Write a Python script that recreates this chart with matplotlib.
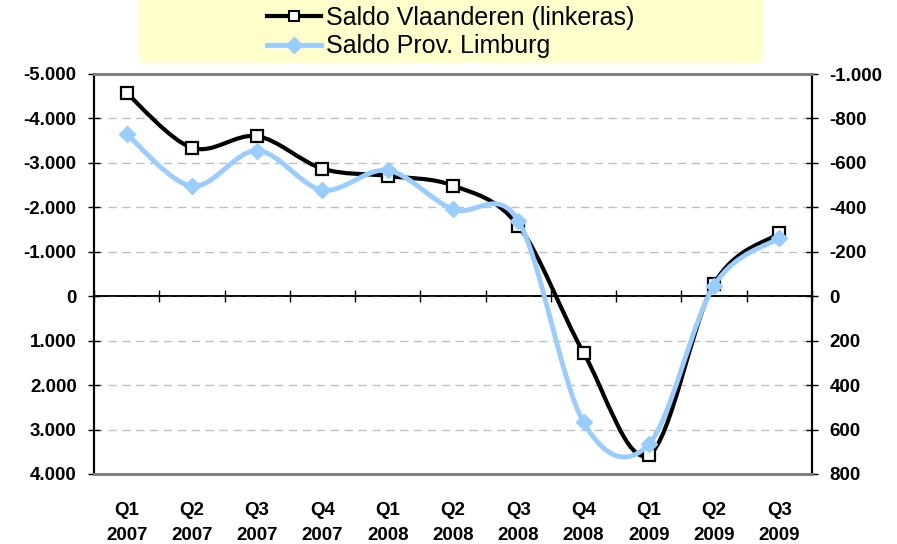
import numpy as np
import matplotlib.pyplot as plt
from matplotlib.path import Path
from matplotlib.patches import PathPatch, Rectangle
from matplotlib.lines import Line2D
from matplotlib.ticker import FuncFormatter

quarters = ['Q1\n2007', 'Q2\n2007', 'Q3\n2007', 'Q4\n2007', 'Q1\n2008', 'Q2\n2008',
            'Q3\n2008', 'Q4\n2008', 'Q1\n2009', 'Q2\n2009', 'Q3\n2009']
saldo_vlaanderen = [-4570, -3340, -3600, -2870, -2705, -2490, -1590, 1270, 3570, -285, -1415]
saldo_limburg = [-730, -496, -655, -478, -566, -391, -340, 567, 666, -48, -262]

BLACK = '#000000'
BLUE = '#99CCFF'
plt.rcParams['font.family'] = ['Liberation Sans', 'DejaVu Sans']


def smooth_path(x, y):
    # Excel-like smoothed line: Catmull-Rom segments as cubic Beziers
    p = np.column_stack([x, y]).astype(float)
    pts = np.vstack([p[0], p, p[-1]])
    verts = [tuple(p[0])]
    codes = [Path.MOVETO]
    for i in range(1, len(pts) - 2):
        c1 = pts[i] + (pts[i + 1] - pts[i - 1]) / 6.0
        c2 = pts[i + 1] - (pts[i + 2] - pts[i]) / 6.0
        verts += [tuple(c1), tuple(c2), tuple(pts[i + 1])]
        codes += [Path.CURVE4] * 3
    return Path(verts, codes)


def thousands(v, pos):
    s = f'{abs(int(round(v))):,}'.replace(',', '.')
    return ('-' if v < 0 else '') + s


fig = plt.figure(figsize=(8.97, 5.44), dpi=100)
ax = fig.add_axes([94 / 897, 1 - 474 / 544, (812 - 94) / 897, 400 / 544])
ax2 = ax.twinx()

x = np.arange(len(quarters))

ax.set_xlim(-0.5, len(quarters) - 0.5)
ax.set_ylim(4000, -5000)
ax2.set_ylim(800, -1000)

ax.set_yticks(np.arange(-5000, 4001, 1000))
ax2.set_yticks(np.arange(-1000, 801, 200))
ax.yaxis.set_major_formatter(FuncFormatter(thousands))
ax2.yaxis.set_major_formatter(FuncFormatter(thousands))

ax.grid(axis='y', color='#C0C0C0', linestyle=(0, (6, 4)), linewidth=1)
ax.set_axisbelow(True)

# horizontal axis line at zero
ax.axhline(0, color=BLACK, linewidth=1.2, zorder=2)

# black series
ax.add_patch(PathPatch(smooth_path(x, saldo_vlaanderen), facecolor='none',
                       edgecolor=BLACK, linewidth=3, zorder=3))
ax.plot(x, saldo_vlaanderen, linestyle='none', marker='s', markersize=8,
        markerfacecolor='white', markeredgecolor=BLACK, markeredgewidth=1.6, zorder=4)

# blue series on right axis
ax2.add_patch(PathPatch(smooth_path(x, saldo_limburg), facecolor='none',
                        edgecolor=BLUE, linewidth=3.5, zorder=3))
ax2.plot(x, saldo_limburg, linestyle='none', marker='D', markersize=8,
         markerfacecolor=BLUE, markeredgecolor=BLUE, zorder=4)

# category labels
ax.set_xticks(x)
ax.set_xticklabels(quarters, fontsize=13.5, fontweight='bold', linespacing=1.6)
ax.tick_params(axis='x', length=0, pad=20)

# boundary ticks on the zero line
zero_pos = (4000 - 0) / 9000
sec = ax.secondary_xaxis(zero_pos)
sec.set_xticks(np.arange(-0.5, len(quarters), 1.0))
sec.set_xticklabels([])
sec.tick_params(axis='x', direction='inout', length=9, width=1, color=BLACK)
sec.spines['bottom'].set_color(BLACK)
sec.spines['bottom'].set_linewidth(1.2)

for a in (ax, ax2):
    a.spines['top'].set_color('#808080')
    a.spines['top'].set_linewidth(2)
    a.spines['bottom'].set_color('#808080')
    a.spines['bottom'].set_linewidth(2)
    a.spines['left'].set_color(BLACK)
    a.spines['right'].set_color(BLACK)
    a.spines['left'].set_linewidth(1.5)
    a.spines['right'].set_linewidth(1.5)

ax.tick_params(axis='y', direction='inout', length=9, width=1, labelsize=13.5, pad=8)
ax2.tick_params(axis='y', direction='inout', length=9, width=1, labelsize=13.5, pad=8)
for lab in ax.get_yticklabels() + ax2.get_yticklabels():
    lab.set_fontweight('bold')

# legend with yellow background
fig.patches.append(Rectangle((139 / 897, 1 - 63 / 544), (763 - 139) / 897, 63 / 544,
                             transform=fig.transFigure, facecolor='#FFFFCC',
                             edgecolor='none', zorder=0))
handles = [
    Line2D([], [], color=BLACK, linewidth=3, marker='s', markersize=7,
           markerfacecolor='white', markeredgecolor=BLACK, markeredgewidth=1.5),
    Line2D([], [], color=BLUE, linewidth=3.5, marker='D', markersize=8,
           markerfacecolor=BLUE, markeredgecolor=BLUE),
]
fig.legend(handles, ['Saldo Vlaanderen (linkeras)', 'Saldo Prov. Limburg'],
           loc='upper left', bbox_to_anchor=(267 / 897, 1 - 6 / 544), frameon=False,
           fontsize=18, handlelength=2.16, handletextpad=0.2, labelspacing=0.18,
           borderpad=0, borderaxespad=0)

fig.savefig('out.png', dpi=100)
